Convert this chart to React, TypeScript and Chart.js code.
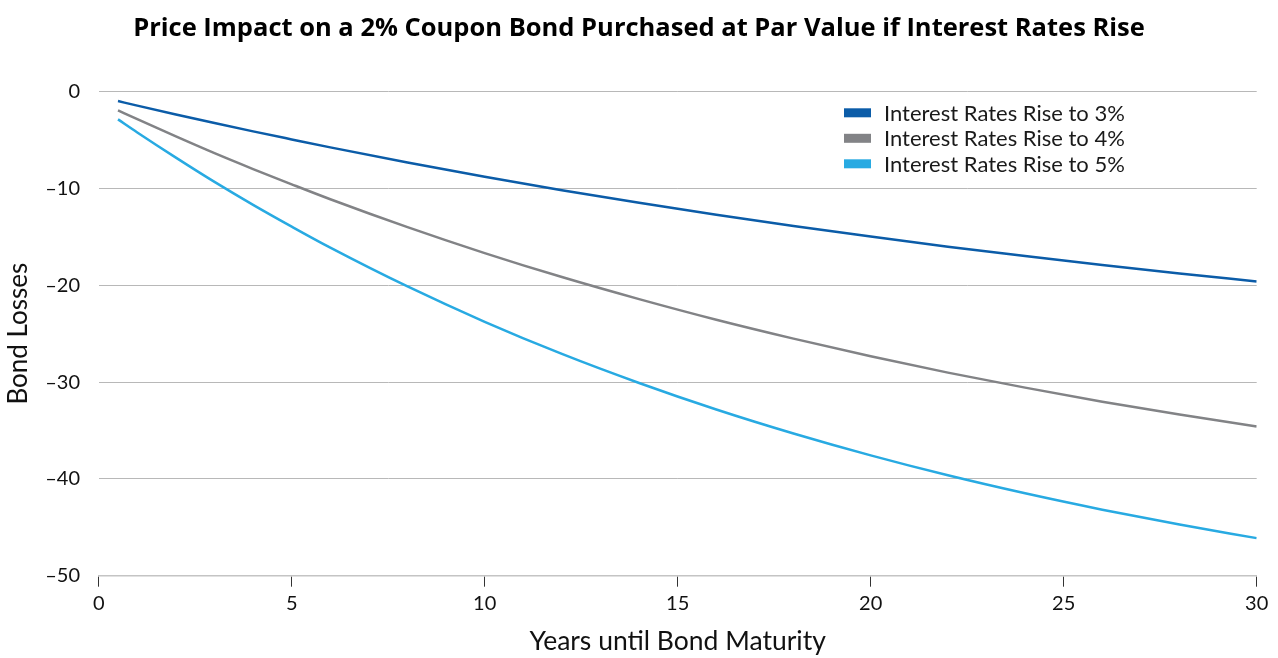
import React, { useEffect, useRef } from 'react';
import { Chart, registerables } from 'chart.js';

Chart.register(...registerables);

const TITLE = 'Price Impact on a 2% Coupon Bond Purchased at Par Value if Interest Rates Rise';
const X_TITLE = 'Years until Bond Maturity';
const Y_TITLE = 'Bond Losses';
const SERIES_LABELS = ['Interest Rates Rise to 3%', 'Interest Rates Rise to 4%', 'Interest Rates Rise to 5%'];
const SERIES_COLORS = ['#0b5ca8', '#828386', '#28aae2'];

const years = [0.5, 1, 2, 3, 4, 5, 6, 8, 10, 12, 14, 16, 18, 20, 22, 24, 26, 28, 30];
const rise3 = [-0.97, -1.44, -2.35, -3.24, -4.1, -4.93, -5.75, -7.31, -8.78, -10.17, -11.47, -12.71, -13.87, -14.97, -16.01, -16.98, -17.91, -18.78, -19.6];
const rise4 = [-1.92, -2.84, -4.62, -6.35, -7.99, -9.57, -11.11, -13.99, -16.67, -19.15, -21.43, -23.56, -25.51, -27.33, -29.02, -30.57, -32.02, -33.35, -34.58];
const rise5 = [-2.86, -4.21, -6.81, -9.32, -11.69, -13.94, -16.11, -20.12, -23.77, -27.09, -30.09, -32.83, -35.31, -37.57, -39.63, -41.49, -43.18, -44.72, -46.12];

const xTicks = [0, 5, 10, 15, 20, 25, 30];
const yMin = -50;
const yMax = 0;
const yStep = 10;

const FONT = 'Lato';

export default function App() {
  const ref = useRef<HTMLCanvasElement>(null);

  useEffect(() => {
    const legendPlugin = {
      id: 'insideLegend',
      afterDraw(chart: any) {
        const { ctx, chartArea } = chart;
        ctx.save();
        chart.data.datasets.forEach((ds: any, i: number) => {
          const bx = chartArea.right - 412.7;
          const by = chartArea.top + 16.6 + i * 25.5;
          ctx.fillStyle = ds.borderColor;
          ctx.fillRect(bx, by, 27, 9);
          ctx.fillStyle = '#1a1a1a';
          ctx.font = `22px ${FONT}`;
          ctx.textBaseline = 'middle';
          ctx.textAlign = 'left';
          ctx.fillText(ds.label, chartArea.right - 372.7, by + 5.5);
        });
        ctx.restore();
      },
    };

    const series = [rise3, rise4, rise5];
    const chart = new Chart(ref.current as HTMLCanvasElement, {
      type: 'line',
      data: {
        datasets: series.map((vals, s) => ({
          label: SERIES_LABELS[s],
          data: years.map((x, i) => ({ x, y: vals[i] })),
          borderColor: SERIES_COLORS[s],
          backgroundColor: SERIES_COLORS[s],
          borderWidth: 2.5,
          pointRadius: 0,
          fill: false,
          cubicInterpolationMode: 'monotone' as const,
        })),
      },
      options: {
        animation: false,
        responsive: true,
        maintainAspectRatio: false,
        layout: { padding: 0 },
        plugins: {
          legend: { display: false },
          tooltip: { enabled: false },
          title: {
            display: true,
            text: TITLE,
            color: '#000',
            font: { family: 'Open Sans', size: 25.5, weight: 'bold' },
            padding: { top: 13.7, bottom: 47.4 },
          },
        },
        scales: {
          x: {
            type: 'linear',
            min: 0,
            max: 30,
            afterBuildTicks: (scale: any) => {
              scale.ticks = xTicks.map((v) => ({ value: v }));
            },
            afterFit: (scale: any) => {
              scale.height = 658 - 575.7;
              scale.paddingRight = 21.3;
            },
            ticks: {
              color: '#111',
              font: { family: FONT, size: 20 },
              padding: 5,
              maxRotation: 0,
            },
            grid: {
              drawOnChartArea: false,
              drawTicks: true,
              tickLength: 11,
              tickColor: '#333',
              tickWidth: 1,
            },
            border: { display: true, color: '#c4c4c4', width: 1.5 },
            title: {
              display: true,
              text: X_TITLE,
              color: '#111',
              font: { family: FONT, size: 26.5 },
              padding: { top: 0, bottom: 0.3 },
            },
          },
          y: {
            min: yMin,
            max: yMax,
            afterFit: (scale: any) => {
              scale.width = 98.7;
            },
            ticks: {
              stepSize: yStep,
              color: '#111',
              font: { family: FONT, size: 20 },
              padding: 18.7,
              callback: (v: any) => (Number(v) < 0 ? '\u2013' + Math.abs(Number(v)) : String(v)),
            },
            grid: { color: '#b8b8b8', lineWidth: 1, drawTicks: false },
            border: { display: false },
            title: {
              display: true,
              text: Y_TITLE,
              color: '#111',
              font: { family: FONT, size: 26 },
              padding: { top: 3.5, bottom: 0 },
            },
          },
        },
      },
      plugins: [legendPlugin],
    });
    return () => chart.destroy();
  }, []);

  return (
    <div style={{ position: 'absolute', left: 0, top: 0, width: 1278, height: 658, background: '#fff' }}>
      <canvas ref={ref} />
    </div>
  );
}
